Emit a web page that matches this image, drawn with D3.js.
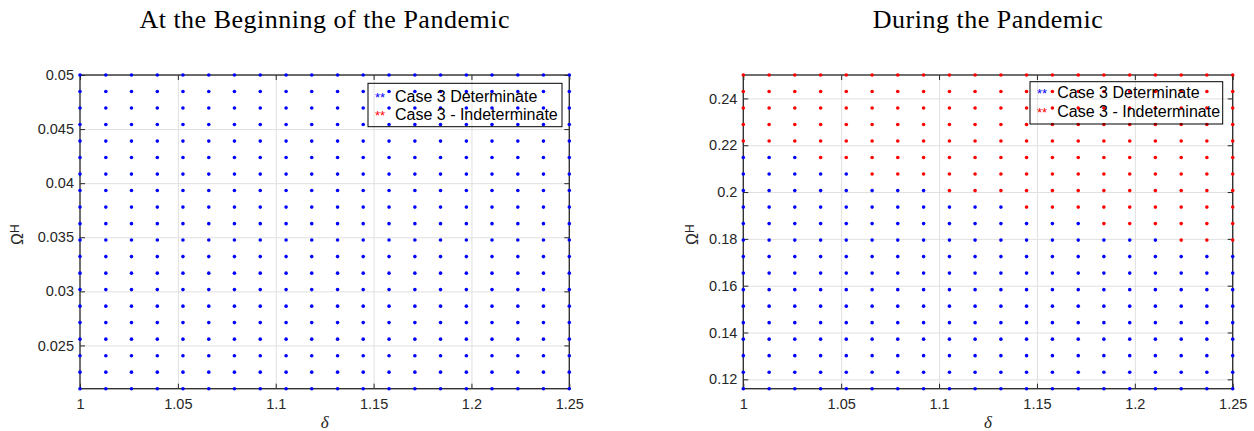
<!DOCTYPE html>
<html>
<head>
<meta charset="utf-8">
<script src="https://cdn.jsdelivr.net/npm/d3@7"></script>
<style>
  body { margin: 0; background: #fff; }
  .tick text { font-family: 'Liberation Sans', Arial, sans-serif; font-size: 14.5px; fill: #262626; }
  .tick line { stroke: #262626; }
  .grid line { stroke: #e0e0e0; stroke-width: 1px; }
  .title { font-family: 'Liberation Serif', serif; font-size: 26px; letter-spacing: 0.5px; text-anchor: middle; fill: #000; }
  .xlabel { font-family: 'Liberation Serif', serif; font-style: italic; font-size: 17px; text-anchor: middle; fill: #262626; }
  .ylabel { font-family: 'Liberation Sans', Arial, sans-serif; fill: #262626; }
  .legend text { font-family: 'Liberation Sans', Arial, sans-serif; font-size: 16px; fill: #000; }
  .legend .mark { font-size: 13px; }
</style>
</head>
<body>
<script>
// grid values
var delta = [1, 1.0132, 1.0263, 1.0395, 1.0526, 1.0658, 1.0789, 1.0921, 1.1053, 1.1184,
             1.1316, 1.1447, 1.1579, 1.1711, 1.1842, 1.1974, 1.2105, 1.2237, 1.2368, 1.25];

var omegaLeft = [0.021, 0.02253, 0.02405, 0.02558, 0.02711, 0.02863, 0.03016, 0.03168, 0.03321, 0.03474,
                 0.03626, 0.03779, 0.03932, 0.04084, 0.04237, 0.04389, 0.04542, 0.04695, 0.04847, 0.05];

var omegaRight = [0.116, 0.12305, 0.13011, 0.13716, 0.14421, 0.15126, 0.15832, 0.16537, 0.17242, 0.17947,
                  0.18653, 0.19358, 0.20063, 0.20768, 0.21474, 0.22179, 0.22884, 0.23589, 0.24295, 0.25];

// b = determinate, r = indeterminate; one string per omega row (bottom row first), one char per delta
var caseLeft = omegaLeft.map(function() { return "bbbbbbbbbbbbbbbbbbbb"; });
var caseRight = [
  "bbbbbbbbbbbbbbbbbbbb",
  "bbbbbbbbbbbbbbbbbbbb",
  "bbbbbbbbbbbbbbbbbbbb",
  "bbbbbbbbbbbbbbbbbbbb",
  "bbbbbbbbbbbbbbbbbbbb",
  "bbbbbbbbbbbbbbbbbbbb",
  "bbbbbbbbbbbbbbbbbbbb",
  "bbbbbbbbbbbbbbbbbbbb",
  "bbbbbbbbbbbbbbbbbbbb",
  "bbbbbbbbbbbbbbbbbrrr",
  "bbbbbbbbbbbbbbrrrrrr",
  "bbbbbbbbbbbrrrrrrrrr",
  "bbbbbbbbrrrrrrrrrrrr",
  "bbbbbrrrrrrrrrrrrrrr",
  "bbbrrrrrrrrrrrrrrrrr",
  "rrrrrrrrrrrrrrrrrrrr",
  "rrrrrrrrrrrrrrrrrrrr",
  "rrrrrrrrrrrrrrrrrrrr",
  "rrrrrrrrrrrrrrrrrrrr",
  "rrrrrrrrrrrrrrrrrrrr"
];

var xTicks = [1, 1.05, 1.1, 1.15, 1.2, 1.25];
var yTicksLeft = [0.025, 0.03, 0.035, 0.04, 0.045, 0.05];
var yTicksRight = [0.12, 0.14, 0.16, 0.18, 0.2, 0.22, 0.24];

var titles = ["At the Beginning of the Pandemic", "During the Pandemic"];
var legendNames = ["Case 3 Determinate", "Case 3 - Indeterminate"];
var colors = { b: "#0000ff", r: "#ff0000" };

var width = 1254, height = 431;
var yTop = 75, yBottom = 388.7;

var panels = [
  { title: titles[0], omega: omegaLeft, cases: caseLeft, yTicks: yTicksLeft,
    yDomain: [0.021, 0.05], x0: 80, x1: 569.3, ylabX: 23,
    legend: { x: 368, y: 83.3, w: 194, h: 43.4, markX: 375, textX: 395, base: [101.7, 120] } },
  { title: titles[1], omega: omegaRight, cases: caseRight, yTicks: yTicksRight,
    yDomain: [0.116, 0.25], x0: 743.3, x1: 1232.7, ylabX: 698,
    legend: { x: 1030, y: 81.7, w: 192.7, h: 42.3, markX: 1037, textX: 1057.3, base: [98.3, 117.3] } }
];

var svg = d3.select("body").append("svg")
  .attr("width", width)
  .attr("height", height);

function fmt(v) { return String(+v.toFixed(3)); }

panels.forEach(function(p) {
  var g = svg.append("g");
  var x = d3.scaleLinear().domain([1, 1.25]).range([p.x0, p.x1]);
  var y = d3.scaleLinear().domain(p.yDomain).range([yBottom, yTop]);
  var h = yBottom - yTop, w = p.x1 - p.x0;

  // grid
  g.append("g").attr("class", "grid")
    .attr("transform", "translate(0," + yBottom + ")")
    .call(d3.axisBottom(x).tickValues(xTicks.slice(1, -1)).tickSize(-h).tickFormat(""))
    .call(function(s) { s.select(".domain").remove(); });
  g.append("g").attr("class", "grid")
    .attr("transform", "translate(" + p.x0 + ",0)")
    .call(d3.axisLeft(y).tickValues(p.yTicks).tickSize(-w).tickFormat(""))
    .call(function(s) { s.select(".domain").remove(); });

  // axes, ticks pointing in
  g.append("g").attr("transform", "translate(0," + yBottom + ")")
    .call(d3.axisBottom(x).tickValues(xTicks).tickSizeInner(-5).tickSizeOuter(0).tickPadding(10).tickFormat(fmt))
    .call(function(s) { s.select(".domain").remove(); });
  g.append("g").attr("transform", "translate(0," + yTop + ")")
    .call(d3.axisTop(x).tickValues(xTicks).tickSizeInner(-5).tickSizeOuter(0).tickFormat(""))
    .call(function(s) { s.select(".domain").remove(); });
  g.append("g").attr("transform", "translate(" + p.x0 + ",0)")
    .call(d3.axisLeft(y).tickValues(p.yTicks).tickSizeInner(-5).tickSizeOuter(0).tickPadding(6).tickFormat(fmt))
    .call(function(s) { s.select(".domain").remove(); });
  g.append("g").attr("transform", "translate(" + p.x1 + ",0)")
    .call(d3.axisRight(y).tickValues(p.yTicks).tickSizeInner(-5).tickSizeOuter(0).tickFormat(""))
    .call(function(s) { s.select(".domain").remove(); });

  g.append("rect")
    .attr("x", p.x0).attr("y", yTop)
    .attr("width", w).attr("height", h)
    .attr("fill", "none")
    .attr("stroke", "#333")
    .attr("stroke-width", 1.4);

  // points
  var pts = [];
  p.omega.forEach(function(om, i) {
    delta.forEach(function(d, j) {
      pts.push({ d: d, om: om, c: p.cases[i][j] });
    });
  });
  g.selectAll("circle.pt")
    .data(pts)
    .enter()
    .append("circle")
    .attr("class", "pt")
    .attr("cx", function(d) { return x(d.d); })
    .attr("cy", function(d) { return y(d.om); })
    .attr("r", 1.8)
    .attr("fill", function(d) { return colors[d.c]; });

  // legend (transparent, like the original)
  var L = p.legend;
  var lg = g.append("g").attr("class", "legend");
  lg.append("rect")
    .attr("x", L.x).attr("y", L.y).attr("width", L.w).attr("height", L.h)
    .attr("fill", "none").attr("stroke", "#000").attr("stroke-width", 1);
  ["b", "r"].forEach(function(k, i) {
    lg.append("text").attr("class", "mark")
      .attr("x", L.markX).attr("y", L.base[i])
      .style("fill", colors[k])
      .text("**");
    lg.append("text")
      .attr("x", L.textX).attr("y", L.base[i])
      .text(legendNames[i]);
  });

  // titles and axis labels
  svg.append("text").attr("class", "title")
    .attr("x", (p.x0 + p.x1) / 2).attr("y", 28)
    .text(p.title);
  svg.append("text").attr("class", "xlabel")
    .attr("x", (p.x0 + p.x1) / 2).attr("y", 428)
    .text("δ");
  var yl = svg.append("text").attr("class", "ylabel")
    .attr("transform", "translate(" + p.ylabX + ",245) rotate(-90)");
  yl.append("tspan").style("font-size", "16px").text("Ω");
  yl.append("tspan").style("font-size", "12px").attr("dy", -4).text("H");
});
</script>
</body>
</html>
